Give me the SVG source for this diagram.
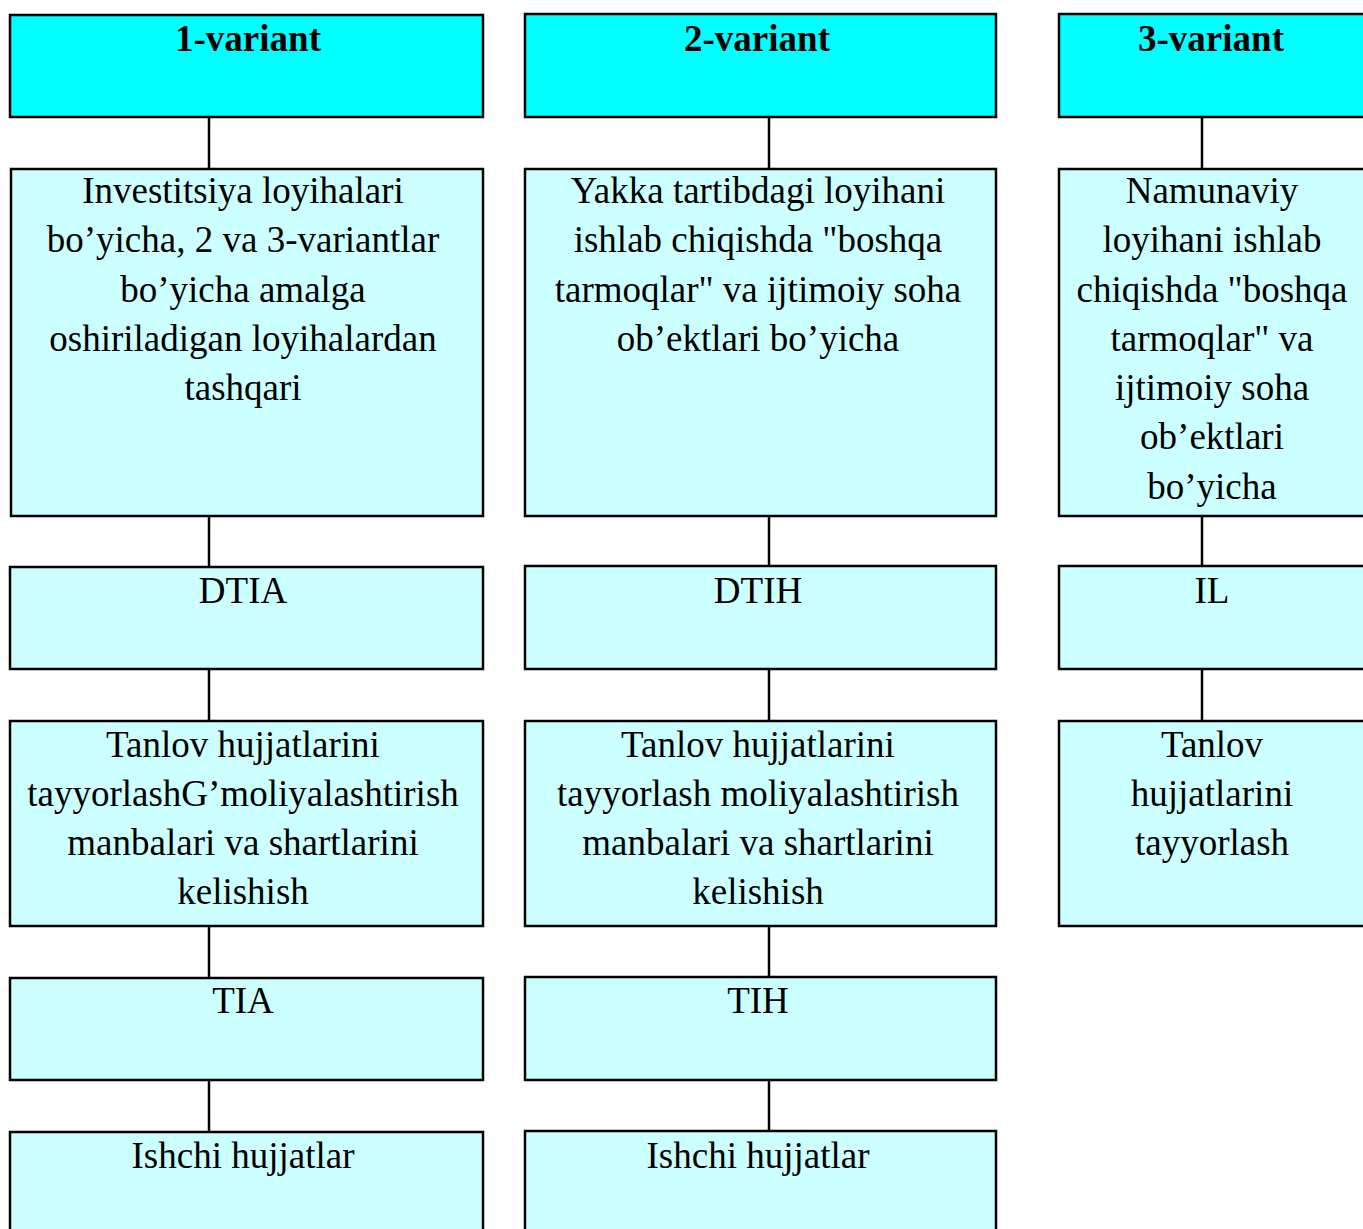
<svg xmlns="http://www.w3.org/2000/svg" width="1363" height="1229" viewBox="0 0 1363 1229">
<style>
.hd{fill:#00FFFF;stroke:#000;stroke-width:2.5}
.bx{fill:#CCFFFF;stroke:#000;stroke-width:2.5}
.ln{stroke:#000;stroke-width:2.5;fill:none}
text{font-family:"Liberation Serif","Times New Roman",serif;font-size:37px;fill:#000;text-anchor:middle}
.b{font-weight:bold}
</style>
<rect width="1363" height="1229" fill="#fff"/>
<g id="connectors">
<line class="ln" x1="209" y1="117" x2="209" y2="169"/>
<line class="ln" x1="209" y1="516" x2="209" y2="567"/>
<line class="ln" x1="209" y1="669" x2="209" y2="721"/>
<line class="ln" x1="209" y1="926" x2="209" y2="978"/>
<line class="ln" x1="209" y1="1080" x2="209" y2="1132"/>
<line class="ln" x1="769" y1="117" x2="769" y2="169"/>
<line class="ln" x1="769" y1="516" x2="769" y2="566"/>
<line class="ln" x1="769" y1="669" x2="769" y2="721"/>
<line class="ln" x1="769" y1="926" x2="769" y2="977"/>
<line class="ln" x1="769" y1="1080" x2="769" y2="1131"/>
<line class="ln" x1="1202" y1="117" x2="1202" y2="169"/>
<line class="ln" x1="1202" y1="516" x2="1202" y2="566"/>
<line class="ln" x1="1202" y1="669" x2="1202" y2="721"/>
</g>
<g id="v1-head"><rect class="hd" x="10" y="15" width="473" height="102"/><text class="b" x="248" y="51">1-variant</text></g>
<g id="v2-head"><rect class="hd" x="525" y="14" width="471" height="103"/><text class="b" x="757" y="51">2-variant</text></g>
<g id="v3-head"><rect class="hd" x="1059" y="14" width="310" height="103"/><text class="b" x="1211" y="51">3-variant</text></g>

<g id="v1-desc"><rect class="bx" x="11" y="169" width="472" height="347"/>
<text x="243" y="203">Investitsiya loyihalari</text>
<text x="243" y="252">bo’yicha, 2 va 3-variantlar</text>
<text x="243" y="302">bo’yicha amalga</text>
<text x="243" y="351">oshiriladigan loyihalardan</text>
<text x="243" y="400">tashqari</text></g>
<g id="v2-desc"><rect class="bx" x="525" y="169" width="471" height="347"/>
<text x="758" y="203">Yakka tartibdagi loyihani</text>
<text x="758" y="252">ishlab chiqishda "boshqa</text>
<text x="758" y="302">tarmoqlar" va ijtimoiy soha</text>
<text x="758" y="351">ob’ektlari bo’yicha</text></g>
<g id="v3-desc"><rect class="bx" x="1059" y="169" width="310" height="347"/>
<text x="1212" y="203">Namunaviy</text>
<text x="1212" y="252">loyihani ishlab</text>
<text x="1212" y="302">chiqishda "boshqa</text>
<text x="1212" y="351">tarmoqlar" va</text>
<text x="1212" y="400">ijtimoiy soha</text>
<text x="1212" y="449">ob’ektlari</text>
<text x="1212" y="499">bo’yicha</text></g>

<g id="v1-dtia"><rect class="bx" x="10" y="567" width="473" height="102"/><text x="243" y="603">DTIA</text></g>
<g id="v2-dtih"><rect class="bx" x="525" y="566" width="471" height="103"/><text x="758" y="603">DTIH</text></g>
<g id="v3-il"><rect class="bx" x="1059" y="566" width="310" height="103"/><text x="1212" y="603">IL</text></g>

<g id="v1-tanlov"><rect class="bx" x="10" y="721" width="473" height="205"/>
<text x="243" y="757">Tanlov hujjatlarini</text>
<text x="243" y="806">tayyorlashG’moliyalashtirish</text>
<text x="243" y="855">manbalari va shartlarini</text>
<text x="243" y="904">kelishish</text></g>
<g id="v2-tanlov"><rect class="bx" x="525" y="721" width="471" height="205"/>
<text x="758" y="757">Tanlov hujjatlarini</text>
<text x="758" y="806">tayyorlash moliyalashtirish</text>
<text x="758" y="855">manbalari va shartlarini</text>
<text x="758" y="904">kelishish</text></g>
<g id="v3-tanlov"><rect class="bx" x="1059" y="721" width="310" height="205"/>
<text x="1212" y="757">Tanlov</text>
<text x="1212" y="806">hujjatlarini</text>
<text x="1212" y="855">tayyorlash</text></g>

<g id="v1-tia"><rect class="bx" x="10" y="978" width="473" height="102"/><text x="243" y="1013">TIA</text></g>
<g id="v2-tih"><rect class="bx" x="525" y="977" width="471" height="103"/><text x="758" y="1013">TIH</text></g>

<g id="v1-ishchi"><rect class="bx" x="10" y="1132" width="473" height="110"/><text x="243" y="1168">Ishchi hujjatlar</text></g>
<g id="v2-ishchi"><rect class="bx" x="525" y="1131" width="471" height="110"/><text x="758" y="1168">Ishchi hujjatlar</text></g>
</svg>
